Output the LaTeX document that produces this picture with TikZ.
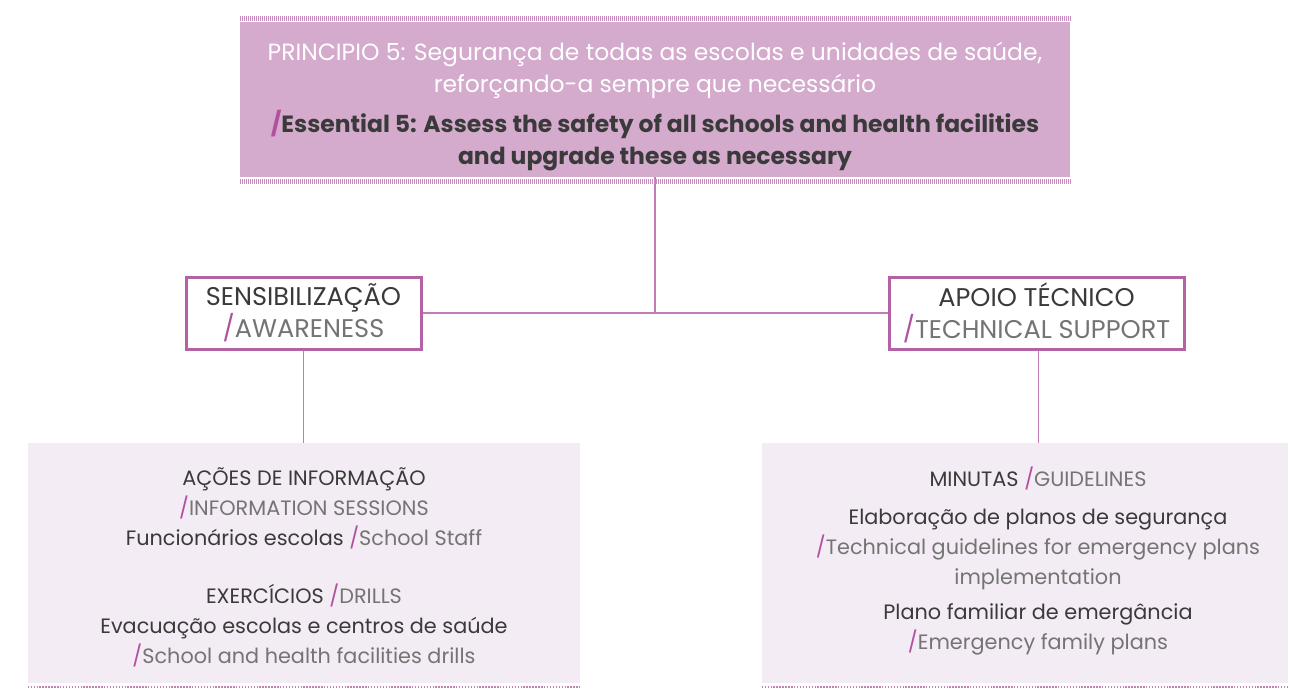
\documentclass[tikz,border=0pt]{standalone}
\usepackage{fontspec}
\setmainfont{Poppins}
\definecolor{topfill}{HTML}{D4AACD}
\definecolor{stripec}{HTML}{C98DBF}
\definecolor{lowfill}{HTML}{F4ECF4}
\definecolor{slashc}{HTML}{B0509E}
\definecolor{framec}{HTML}{B462A6}
\definecolor{connc}{HTML}{C37CB8}
\definecolor{darktxt}{HTML}{3A3A3A}
\definecolor{graytxt}{HTML}{747474}
\newcommand{\slh}{\textcolor{slashc}{/}}
\tikzset{
  topbox/.style={fill=topfill, inner sep=0pt},
  toptxt/.style={inner sep=0pt, align=center, font=\fontsize{17.6}{24}\selectfont},
  midbox/.style={draw=framec, line width=2.25pt, fill=white, inner sep=0pt, align=center, font=\fontsize{19.2}{24}\selectfont, text=darktxt},
  lowbox/.style={fill=lowfill, inner sep=0pt},
  lowtxt/.style={align=center, inner sep=0pt, text=darktxt, font=\fontsize{15.6}{22.5}\selectfont},
  conn/.style={draw=connc, line width=1.1pt},
  stripe/.style={draw=stripec, line width=4pt, dash pattern=on 0.75pt off 0.75pt},
  dotrow/.style={draw=framec!80, line width=1.5pt, dash pattern=on 1.1pt off 1.1pt},
}
\begin{document}
\begin{tikzpicture}[x=0.75pt,y=-0.75pt]
\useasboundingbox (0,0) rectangle (1290,690);
\node[topbox, minimum width=622.5pt, minimum height=116.25pt] (top) at (655,99.5) {};
\node[toptxt] (toptitle) at (655,107) {%
  \textcolor{white}{PRINCIPIO 5: Segurança de todas as escolas e unidades de saúde,}\\
  \textcolor{white}{reforçando-a sempre que necessário}\\[6pt]
  \textcolor{darktxt}{\textbf{\slh Essential 5: Assess the safety of all schools and health facilities}}\\
  \textcolor{darktxt}{\textbf{and upgrade these as necessary}}};
\draw[conn] (top.south) -- (top.south |- 0,312);
\draw[stripe] ([yshift=2.25pt]top.north west) -- ([yshift=2.25pt]top.north east);
\draw[stripe] ([yshift=-3pt]top.south west) -- ([yshift=-3pt]top.south east);

\node[midbox, minimum width=176.25pt, minimum height=54pt] (sens) at (303.5,313) {%
  \raisebox{-3pt}{\parbox{170pt}{\centering SENSIBILIZAÇÃO\\ \slh\textcolor{graytxt}{AWARENESS}}}};
\node[midbox, minimum width=221.25pt, minimum height=54pt] (tech) at (1036.5,313) {%
  \raisebox{-3pt}{\parbox{215pt}{\centering APOIO TÉCNICO\\ \slh\textcolor{graytxt}{TECHNICAL SUPPORT}}}};

\node[lowbox, minimum width=414pt, minimum height=180pt] (lb) at (304,563) {};
\node[lowbox, minimum width=394.5pt, minimum height=180pt] (rb) at (1025,563) {};
\draw[dotrow] ([yshift=-2.6pt]lb.south west) -- ([yshift=-2.6pt]lb.south east);
\draw[dotrow] ([yshift=-2.6pt]rb.south west) -- ([yshift=-2.6pt]rb.south east);

\node[lowtxt, anchor=north] (lt) at (304,467) {%
  AÇÕES DE INFORMAÇÃO\\
  \slh\textcolor{graytxt}{INFORMATION SESSIONS}\\
  Funcionários escolas \slh\textcolor{graytxt}{School Staff}\\[21pt]
  EXERCÍCIOS \slh\textcolor{graytxt}{DRILLS}\\
  Evacuação escolas e centros de saúde\\
  \slh\textcolor{graytxt}{School and health facilities drills}};
\node[lowtxt, anchor=north] (rt) at (1038,466.5) {%
  MINUTAS \slh\textcolor{graytxt}{GUIDELINES}\\[6pt]
  Elaboração de planos de segurança\\
  \slh\textcolor{graytxt}{Technical guidelines for emergency plans}\\
  \textcolor{graytxt}{implementation}\\[4pt]
  Plano familiar de emergância\\
  \slh\textcolor{graytxt}{Emergency family plans}};

\draw[conn] (sens.east) -- (tech.west);
\draw[conn] (sens.south) -- (sens.south |- lb.north);
\draw[conn] ([xshift=1.5pt]tech.south) -- ([xshift=1.5pt]tech.south |- rb.north);
\end{tikzpicture}
\end{document}
